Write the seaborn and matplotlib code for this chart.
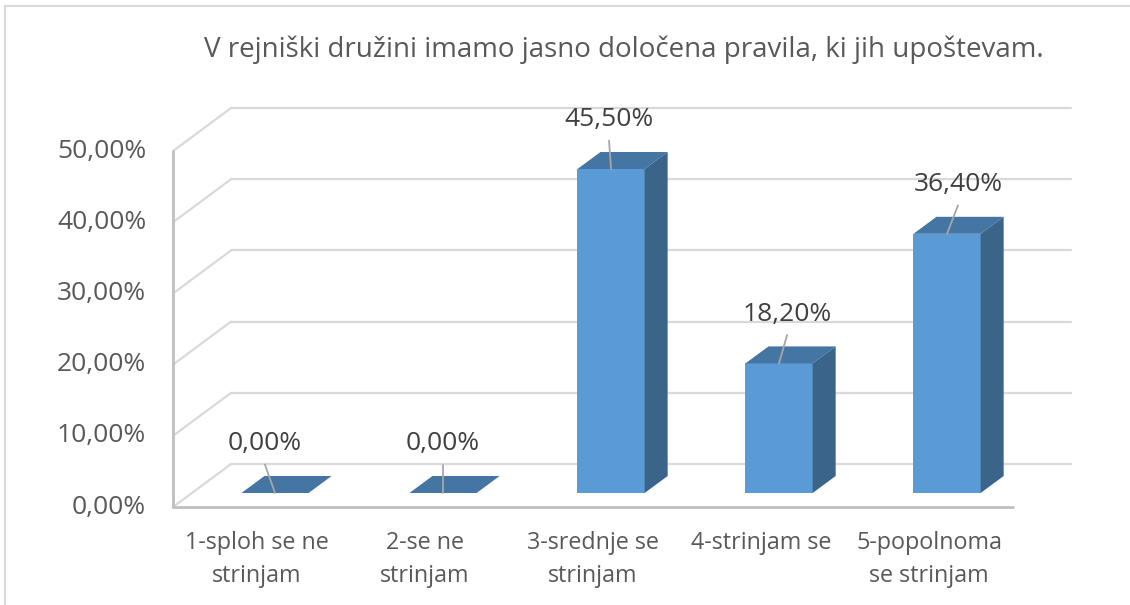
import numpy as np
import matplotlib
matplotlib.use("Agg")
import matplotlib.pyplot as plt
from matplotlib.patches import Polygon
from matplotlib.lines import Line2D
import seaborn as sns

# chart data
title = "V rejniški družini imamo jasno določena pravila, ki jih upoštevam."
categories = ["1-sploh se ne\nstrinjam", "2-se ne\nstrinjam", "3-srednje se\nstrinjam",
              "4-strinjam se", "5-popolnoma\nse strinjam"]
shares = [0.0, 0.0, 45.5, 18.2, 36.4]
y_ticks = [0, 10, 20, 30, 40, 50]
label_nudge = [-0.06, 0.0, -0.012, 0.048, 0.065]

sns.set_theme(style="white")
plt.rcParams["font.family"] = ["Open Sans", "DejaVu Sans"]

FRONT = "#5B9BD5"
TOP = "#4576A3"
SIDE = "#3A6489"
GRID = "#D9D9D9"
AXIS = "#BFBFBF"
TEXT = "#595959"
LABEL = "#404040"

# fake 3d offsets (data units, relative to the bar front plane)
WALL_DX, WALL_DY = 0.238, 4.07
FRONT_DX, FRONT_DY = -0.107, -1.97
BAR_DX, BAR_DY = 0.137, 2.39
X0, X1 = -0.5, 4.5


def pct(v):
    return f"{v:.2f}%".replace(".", ",")


fig = plt.figure(figsize=(11.3, 6.05), dpi=100)
ax = fig.add_axes([0, 0, 1, 1])

sns.barplot(x=categories, y=shares, color=FRONT, saturation=1, width=0.4,
            linewidth=0, ax=ax, zorder=3)

# back wall, left wall and floor
for t in y_ticks:
    ax.plot([X0 + WALL_DX, X1 + WALL_DX], [t + WALL_DY, t + WALL_DY], color=GRID, lw=1.6, zorder=1)
    ax.plot([X0 + WALL_DX, X0 + FRONT_DX], [t + WALL_DY, t + FRONT_DY], color=GRID, lw=1.6, zorder=1)
    ax.text(X0 + FRONT_DX - 0.16, t + FRONT_DY, pct(t), ha="right", va="center",
            fontsize=19, color=TEXT)

# front axis lines
ax.plot([X0 + FRONT_DX, X0 + FRONT_DX], [FRONT_DY, y_ticks[-1] + FRONT_DY], color=AXIS, lw=2, zorder=2)
ax.plot([X0 + FRONT_DX, X1 + FRONT_DX], [FRONT_DY, FRONT_DY], color=AXIS, lw=2, zorder=2)

# top and side faces of the bars
for p in ax.patches:
    x, w, h = p.get_x(), p.get_width(), p.get_height()
    top = [(x, h), (x + w, h), (x + w + BAR_DX, h + BAR_DY), (x + BAR_DX, h + BAR_DY)]
    ax.add_patch(Polygon(top, closed=True, facecolor=TOP, edgecolor="none", zorder=3))
    if h > 0:
        side = [(x + w, 0), (x + w, h), (x + w + BAR_DX, h + BAR_DY), (x + w + BAR_DX, BAR_DY)]
        ax.add_patch(Polygon(side, closed=True, facecolor=SIDE, edgecolor="none", zorder=3))

# data labels with leader lines
for i, v in enumerate(shares):
    lx, ly = i + label_nudge[i], v + 6.9
    ax.plot([lx, i], [ly - 2.9, v], color="#A6A6A6", lw=1.3, zorder=5)
    ax.text(lx, ly, pct(v), ha="center", va="center", fontsize=19, color=LABEL, zorder=6)

# category labels
for i, c in enumerate(categories):
    ax.text(i + FRONT_DX, FRONT_DY - 3.3, c, ha="center", va="top", fontsize=16.8,
            color=TEXT, linespacing=1.5)

ax.set_xlim(-1.637, 5.089)
ax.set_ylim(-15.73, 69.24)
ax.axis("off")

fig.text(0.552, 1 - 50 / 605, title, ha="center", va="center", fontsize=20, color=TEXT)

# chart frame
fig.add_artist(Line2D([5 / 1130, 5 / 1130], [0, 1 - 6 / 605], color=GRID, lw=1.5, transform=fig.transFigure))
fig.add_artist(Line2D([5 / 1130, 1], [1 - 6 / 605, 1 - 6 / 605], color=GRID, lw=1.5, transform=fig.transFigure))

fig.savefig("out.png", dpi=100)
